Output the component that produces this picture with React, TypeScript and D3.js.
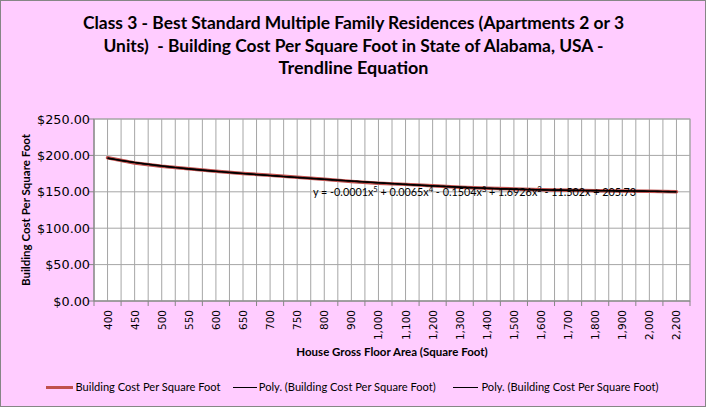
import React from "react";
import * as d3 from "d3";

const categories = ["400","450","500","550","600","650","700","750","800","900","1,000","1,100","1,200","1,300","1,400","1,500","1,600","1,700","1,800","1,900","2,000","2,200"];
const costValues = [196.8, 189.5, 185.2, 181.8, 178.3, 175.2, 172.6, 170.0, 167.4, 164.2, 161.8, 160.2, 158.2, 156.4, 155.0, 153.9, 152.9, 152.1, 151.5, 151.0, 150.6, 150.2];
const yTicks = [0, 50, 100, 150, 200, 250];
const titleLines = [
  "Class 3 - Best Standard Multiple Family Residences (Apartments 2 or 3",
  "Units)  - Building Cost Per Square Foot in State of Alabama, USA -",
  "Trendline Equation",
];
const seriesName = "Building Cost Per Square Foot";
const trendName = "Poly. (Building Cost Per Square Foot)";
const equationParts: [string, string][] = [
  ["y = -0.0001x", "5"],
  [" + 0.0065x", "4"],
  [" - 0.1504x", "3"],
  [" + 1.6926x", "2"],
  [" - 11.502x + 205.73", ""],
];

const W = 707, H = 409;
const L = 94, R = 690, T = 119, B = 301;
const CAL = "Lato, 'Open Sans', sans-serif";
const TAH = "'DejaVu Sans', Verdana, sans-serif";

function polyFit(xs: number[], ys: number[], deg: number): (x: number) => number {
  const mid = (xs[0] + xs[xs.length - 1]) / 2;
  const half = (xs[xs.length - 1] - xs[0]) / 2;
  const ts = xs.map((x) => (x - mid) / half);
  const n = deg + 1;
  const A: number[][] = Array.from({ length: n }, () => new Array(n + 1).fill(0));
  for (let k = 0; k < ts.length; k++) {
    for (let i = 0; i < n; i++) {
      for (let j = 0; j < n; j++) A[i][j] += Math.pow(ts[k], i + j);
      A[i][n] += ys[k] * Math.pow(ts[k], i);
    }
  }
  for (let c = 0; c < n; c++) {
    let p = c;
    for (let r = c + 1; r < n; r++) if (Math.abs(A[r][c]) > Math.abs(A[p][c])) p = r;
    [A[c], A[p]] = [A[p], A[c]];
    for (let r = 0; r < n; r++) {
      if (r === c) continue;
      const f = A[r][c] / A[c][c];
      for (let k = c; k <= n; k++) A[r][k] -= f * A[c][k];
    }
  }
  const coef = A.map((row, i) => row[n] / row[i]);
  return (x: number) => {
    const t = (x - mid) / half;
    let s = 0;
    for (let i = n - 1; i >= 0; i--) s = s * t + coef[i];
    return s;
  };
}

export default function App() {
  const x = d3.scaleBand().domain(categories).range([L, R]).padding(0);
  const bw = x.bandwidth();
  const xi = d3.scaleLinear().domain([0.5, categories.length + 0.5]).range([L, R]);
  const y = d3.scaleLinear().domain([0, 250]).range([B, T]);

  const idx = categories.map((_, i) => i + 1);
  const fit = polyFit(idx, costValues, 5);
  const samples = d3.range(1, categories.length + 0.001, 0.1);
  const trendPath = d3.line<number>().x((t) => xi(t)).y((t) => y(fit(t)))(samples) || "";
  const dataPath = d3.line<number>().x((_, i) => (x(categories[i]) as number) + bw / 2).y((v) => y(v))(costValues) || "";

  const vGrid: number[] = [];
  for (let i = 0; i <= categories.length * 2; i++) vGrid.push(L + (i * bw) / 2);

  const titleLens = [541, 500, 150];

  return (
    <svg width={W} height={H} style={{ position: "absolute", left: 0, top: 0 }}>
      <rect x={0.5} y={0.5} width={705} height={406} fill="#FFCCFF" stroke="#868686" />
      {titleLines.map((t, i) => (
        <text key={i} x={353.5} y={29 + i * 22.7} textAnchor="middle" fontFamily={CAL} fontWeight="bold" fontSize={16.5} fill="#000"
          textLength={titleLens[i]} lengthAdjust="spacingAndGlyphs" style={{ whiteSpace: "pre" }}>{t}</text>
      ))}
      <rect x={L} y={T} width={R - L} height={B - T} fill="#fff" />
      {vGrid.map((gx, i) => (
        <line key={"v" + i} x1={gx} x2={gx} y1={T} y2={B} stroke="#A6A6A6" strokeWidth={1} />
      ))}
      {yTicks.map((t) => (
        <line key={"h" + t} x1={L} x2={R} y1={y(t)} y2={y(t)} stroke="#A6A6A6" strokeWidth={1} />
      ))}
      <rect x={L} y={T} width={R - L} height={B - T} fill="none" stroke="#A6A6A6" />
      <line x1={L} x2={L} y1={T} y2={B} stroke="#868686" />
      <line x1={L} x2={R} y1={B} y2={B} stroke="#868686" />
      {yTicks.map((t) => (
        <g key={"yt" + t}>
          <line x1={L - 5} x2={L} y1={y(t)} y2={y(t)} stroke="#868686" />
          <text x={L - 4} y={y(t) + 4.5} textAnchor="end" fontFamily={TAH} fontSize={12.8} fill="#000">{d3.format("$,.2f")(t)}</text>
        </g>
      ))}
      {d3.range(categories.length + 1).map((i) => (
        <line key={"xt" + i} x1={L + i * bw} x2={L + i * bw} y1={B} y2={B + 5} stroke="#868686" />
      ))}
      {categories.map((c) => {
        const cx = (x(c) as number) + bw / 2;
        return (
          <text key={"xl" + c} transform={`translate(${cx + 4},${B + 9}) rotate(-90)`} textAnchor="end" fontFamily={TAH} fontSize={10.5} fill="#000">{c}</text>
        );
      })}
      <text x={(L + R) / 2} y={356} textAnchor="middle" fontFamily={CAL} fontWeight="bold" fontSize={11.5} fill="#000">House Gross Floor Area (Square Foot)</text>
      <text transform={`translate(30,${(T + B) / 2}) rotate(-90)`} textAnchor="middle" fontFamily={CAL} fontWeight="bold" fontSize={11.5} fill="#000">Building Cost Per Square Foot</text>

      <path d={dataPath} fill="none" stroke="#C0504D" strokeWidth={3.5} strokeLinejoin="round" strokeLinecap="round" />
      <path d={trendPath} fill="none" stroke="#000" strokeWidth={1.6} />
      <path d={trendPath} fill="none" stroke="#000" strokeWidth={1.2} />

      <text x={313} y={196} fontFamily={CAL} fontSize={10.8} fill="#000">
        {equationParts.map(([a, s], i) => (
          <React.Fragment key={i}>
            <tspan dy={i > 0 ? 4 : 0}>{a}</tspan>
            {s ? <tspan fontSize={7.5} dy={-4}>{s}</tspan> : null}
          </React.Fragment>
        ))}
      </text>

      <g fontFamily={CAL} fontSize={11.1} fill="#000">
        <line x1={46} x2={73} y1={387.5} y2={387.5} stroke="#C0504D" strokeWidth={3} />
        <text x={75.5} y={391}>{seriesName}</text>
        <line x1={233} x2={257} y1={387.5} y2={387.5} stroke="#000" strokeWidth={1} />
        <text x={258.8} y={391}>{trendName}</text>
        <line x1={453} x2={478} y1={387.5} y2={387.5} stroke="#000" strokeWidth={1} />
        <text x={481.5} y={391}>{trendName}</text>
      </g>
    </svg>
  );
}
